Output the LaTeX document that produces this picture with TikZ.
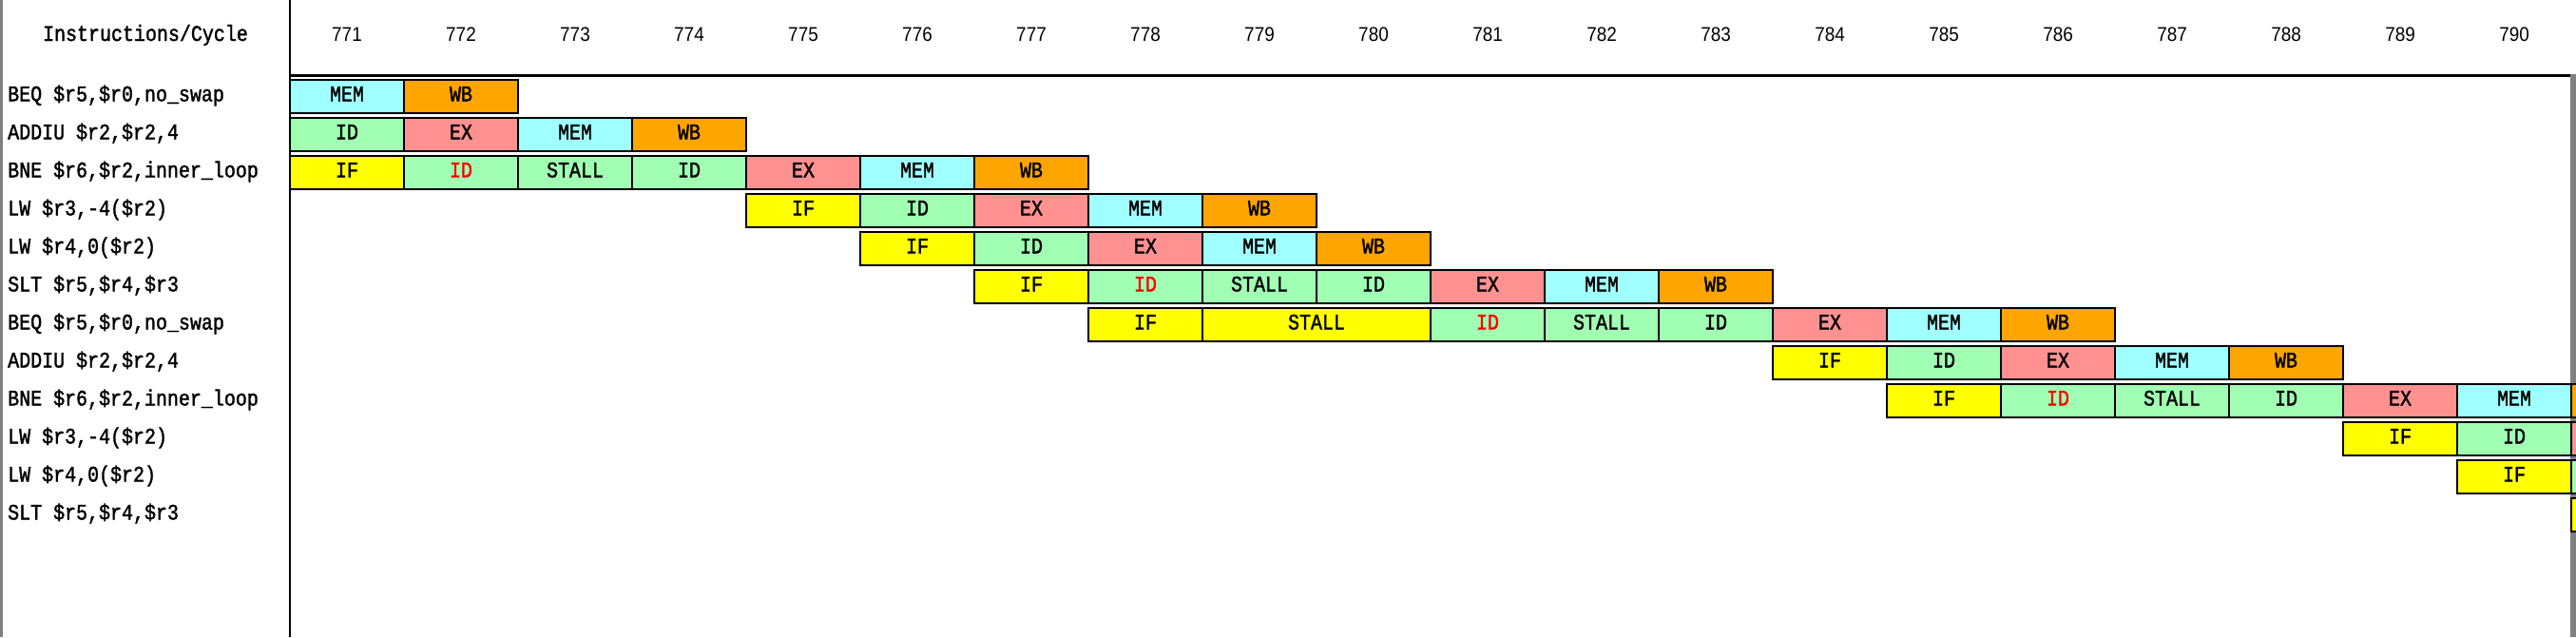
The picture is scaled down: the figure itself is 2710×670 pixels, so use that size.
\documentclass[tikz,border=0pt]{standalone}
\usepackage{fontspec}
\newfontfamily\monof[FakeStretch=0.85,FakeBold=1.5]{Liberation Mono}
\newfontfamily\numf[FakeStretch=0.9]{Liberation Sans}
\definecolor{cMEM}{RGB}{160,255,255}
\definecolor{cWB}{RGB}{255,165,0}
\definecolor{cID}{RGB}{160,255,178}
\definecolor{cEX}{RGB}{255,145,145}
\definecolor{cIF}{RGB}{255,255,0}
\definecolor{framegray}{RGB}{128,128,128}
\newcommand\stg[6]{\node[#5,minimum width={#4*120pt}] (b#1) at ({305+120*#3+60*#4},{101.5+40*#2}) {#6};}
\newcommand\lbl[2]{\node[instr] (l#1) at (8,{101.5+40*#1}) {#2};}
\newcommand\cyc[1]{\node[cycnum] (c#1) at ({365+120*(#1-771)},36) {#1};}
\begin{document}
\begin{tikzpicture}[x=1pt,y=-1pt,
  txt/.style={inner sep=0pt, text height=13pt, text depth=3pt, font=\monof\fontsize{23.5}{24}\selectfont},
  stage/.style={txt, draw=black, line width=2pt, minimum height=35.5pt},
  sIF/.style={stage, fill=cIF},
  sID/.style={stage, fill=cID},
  sIDr/.style={stage, fill=cID, text=red},
  sEX/.style={stage, fill=cEX},
  sMEM/.style={stage, fill=cMEM},
  sWB/.style={stage, fill=cWB},
  instr/.style={txt, anchor=west},
  cycnum/.style={inner sep=0pt, text height=15pt, text depth=0pt, font=\numf\fontsize{21}{22}\selectfont}]
\useasboundingbox (0,0) rectangle (2710,670);
\clip (0,0) rectangle (2710,670);
\fill[white] (0,0) rectangle (2710,670);
% frame
\fill[framegray] (0,0) rectangle (3,670);
\fill[framegray] (2704,78) rectangle (2710,670);
\draw[line width=2pt] (305,0) -- (305,670);
\draw[line width=2.4pt] (305,79.5) -- (2704,79.5);
% header
\node[txt] (head) at (153,38) {Instructions/Cycle};
\foreach \c in {771,...,790} {\cyc{\c}}
% instruction labels
\lbl{0}{BEQ \$r5,\$r0,no\_swap}
\lbl{1}{ADDIU \$r2,\$r2,4}
\lbl{2}{BNE \$r6,\$r2,inner\_loop}
\lbl{3}{LW \$r3,-4(\$r2)}
\lbl{4}{LW \$r4,0(\$r2)}
\lbl{5}{SLT \$r5,\$r4,\$r3}
\lbl{6}{BEQ \$r5,\$r0,no\_swap}
\lbl{7}{ADDIU \$r2,\$r2,4}
\lbl{8}{BNE \$r6,\$r2,inner\_loop}
\lbl{9}{LW \$r3,-4(\$r2)}
\lbl{10}{LW \$r4,0(\$r2)}
\lbl{11}{SLT \$r5,\$r4,\$r3}
% row 0
\stg{0-0}{0}{0}{1}{sMEM}{MEM}
\stg{0-1}{0}{1}{1}{sWB}{WB}
% row 1
\stg{1-0}{1}{0}{1}{sID}{ID}
\stg{1-1}{1}{1}{1}{sEX}{EX}
\stg{1-2}{1}{2}{1}{sMEM}{MEM}
\stg{1-3}{1}{3}{1}{sWB}{WB}
% row 2
\stg{2-0}{2}{0}{1}{sIF}{IF}
\stg{2-1}{2}{1}{1}{sIDr}{ID}
\stg{2-2}{2}{2}{1}{sID}{STALL}
\stg{2-3}{2}{3}{1}{sID}{ID}
\stg{2-4}{2}{4}{1}{sEX}{EX}
\stg{2-5}{2}{5}{1}{sMEM}{MEM}
\stg{2-6}{2}{6}{1}{sWB}{WB}
% row 3
\stg{3-4}{3}{4}{1}{sIF}{IF}
\stg{3-5}{3}{5}{1}{sID}{ID}
\stg{3-6}{3}{6}{1}{sEX}{EX}
\stg{3-7}{3}{7}{1}{sMEM}{MEM}
\stg{3-8}{3}{8}{1}{sWB}{WB}
% row 4
\stg{4-5}{4}{5}{1}{sIF}{IF}
\stg{4-6}{4}{6}{1}{sID}{ID}
\stg{4-7}{4}{7}{1}{sEX}{EX}
\stg{4-8}{4}{8}{1}{sMEM}{MEM}
\stg{4-9}{4}{9}{1}{sWB}{WB}
% row 5
\stg{5-6}{5}{6}{1}{sIF}{IF}
\stg{5-7}{5}{7}{1}{sIDr}{ID}
\stg{5-8}{5}{8}{1}{sID}{STALL}
\stg{5-9}{5}{9}{1}{sID}{ID}
\stg{5-10}{5}{10}{1}{sEX}{EX}
\stg{5-11}{5}{11}{1}{sMEM}{MEM}
\stg{5-12}{5}{12}{1}{sWB}{WB}
% row 6
\stg{6-7}{6}{7}{1}{sIF}{IF}
\stg{6-8}{6}{8}{2}{sIF}{STALL}
\stg{6-10}{6}{10}{1}{sIDr}{ID}
\stg{6-11}{6}{11}{1}{sID}{STALL}
\stg{6-12}{6}{12}{1}{sID}{ID}
\stg{6-13}{6}{13}{1}{sEX}{EX}
\stg{6-14}{6}{14}{1}{sMEM}{MEM}
\stg{6-15}{6}{15}{1}{sWB}{WB}
% row 7
\stg{7-13}{7}{13}{1}{sIF}{IF}
\stg{7-14}{7}{14}{1}{sID}{ID}
\stg{7-15}{7}{15}{1}{sEX}{EX}
\stg{7-16}{7}{16}{1}{sMEM}{MEM}
\stg{7-17}{7}{17}{1}{sWB}{WB}
% row 8
\stg{8-14}{8}{14}{1}{sIF}{IF}
\stg{8-15}{8}{15}{1}{sIDr}{ID}
\stg{8-16}{8}{16}{1}{sID}{STALL}
\stg{8-17}{8}{17}{1}{sID}{ID}
\stg{8-18}{8}{18}{1}{sEX}{EX}
\stg{8-19}{8}{19}{1}{sMEM}{MEM}
\stg{8-20}{8}{20}{1}{sWB}{}
% row 9
\stg{9-18}{9}{18}{1}{sIF}{IF}
\stg{9-19}{9}{19}{1}{sID}{ID}
\stg{9-20}{9}{20}{1}{sEX}{}
% row 10
\stg{10-19}{10}{19}{1}{sIF}{IF}
\stg{10-20}{10}{20}{1}{sID}{}
% row 11
\stg{11-20}{11}{20}{1}{sIF}{}
\end{tikzpicture}
\end{document}
